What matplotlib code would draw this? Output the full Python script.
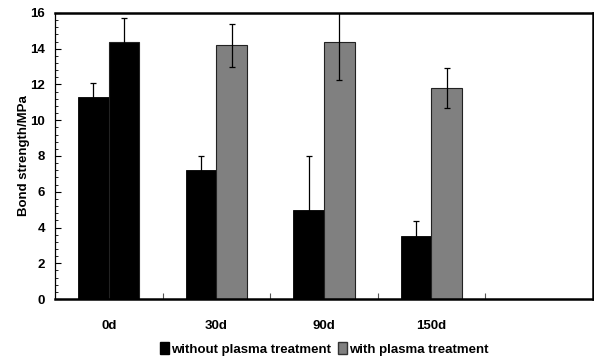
import numpy as np
import matplotlib
matplotlib.use('Agg')
import matplotlib.pyplot as plt
from matplotlib.ticker import MultipleLocator
from matplotlib.patches import Patch

plt.rcParams['font.family'] = ['Liberation Sans', 'DejaVu Sans']
plt.rcParams['font.weight'] = 'bold'

# data
categories = ['0d', '30d', '90d', '150d', '']
without_vals = [11.3, 7.2, 5.0, 3.5]
without_err = [0.8, 0.8, 3.0, 0.85]
with_vals = [14.35, 14.2, 14.4, 11.8]
with_err = [1.35, 1.2, 2.15, 1.1]
with_colors = ['black', '#808080', '#808080', '#808080']

fig = plt.figure(figsize=(5.94, 3.58), dpi=100)
ax = fig.add_axes([0.0926, 0.1648, 0.9054, 0.7989])

x = np.arange(len(without_vals))
w = 0.285

ax.bar(x - w/2, without_vals, w, color='black', edgecolor='black', linewidth=0.6,
       yerr=without_err, ecolor='black', error_kw=dict(elinewidth=0.9, capsize=2.5, capthick=0.9))
ax.bar(x + w/2, with_vals, w, color=with_colors, edgecolor='#222222', linewidth=0.8,
       yerr=with_err, ecolor='black', error_kw=dict(elinewidth=0.9, capsize=2.5, capthick=0.9))

ax.set_xlim(-0.5, len(categories) - 0.5)
ax.set_ylim(0, 16)

# x ticks at category boundaries, labels at centers
ax.set_xticks(np.arange(len(categories) - 1) + 0.5)
ax.set_xticklabels([])
ax.set_xticks(np.arange(len(categories)), minor=True)
ax.set_xticklabels(categories, minor=True)
ax.tick_params(axis='x', which='major', direction='in', length=4, width=0.8, color='#555555')
ax.tick_params(axis='x', which='minor', length=0, pad=15, labelsize=9.5)

ax.yaxis.set_major_locator(MultipleLocator(2))
ax.yaxis.set_minor_locator(MultipleLocator(0.4))
ax.tick_params(axis='y', which='major', direction='in', length=4, width=0.8, labelsize=9.5, pad=7)
ax.tick_params(axis='y', which='minor', direction='in', length=2, width=0.6)

for side in ['top', 'bottom', 'right']:
    ax.spines[side].set_linewidth(1.8)
ax.spines['left'].set_linewidth(0.9)

ax.set_ylabel('Bond strength/MPa', fontsize=9.5, fontweight='bold', labelpad=0)

handles = [Patch(facecolor='black', edgecolor='black'),
           Patch(facecolor='#808080', edgecolor='#333333')]
fig.legend(handles, ['without plasma treatment', 'with plasma treatment'],
           loc='center', bbox_to_anchor=(324/594, 1 - 349/358), ncol=2, frameon=False,
           fontsize=9.5, handlelength=0.7, handleheight=1.0, handletextpad=0.15,
           columnspacing=0.5, borderaxespad=0)

fig.savefig('out.png', dpi=100)
